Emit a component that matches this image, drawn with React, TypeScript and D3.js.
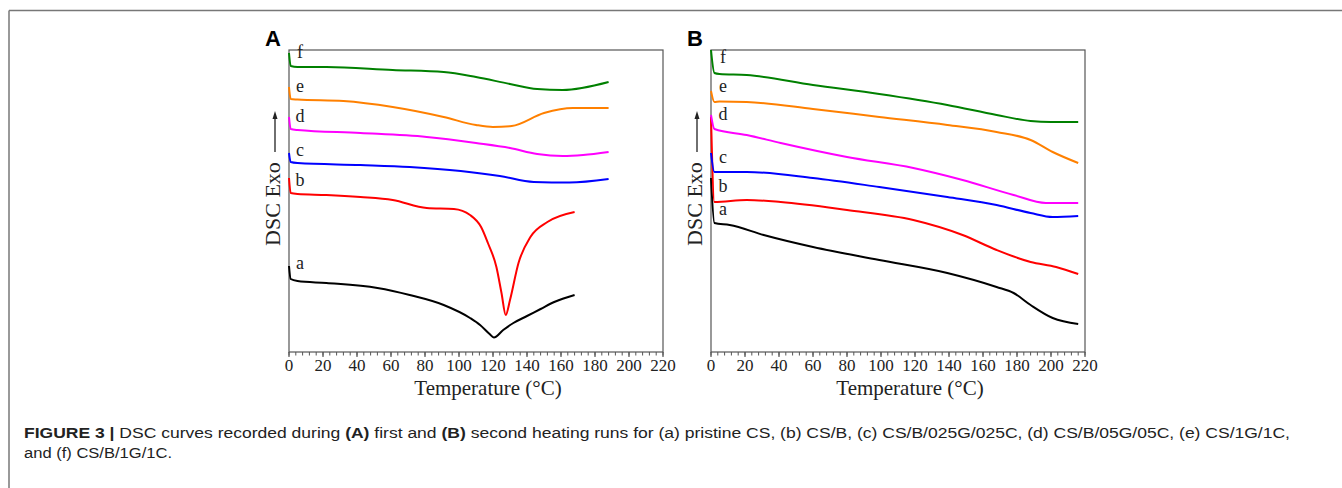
import React from "react";
import * as d3 from "d3";

type P = [number, number];

// Panel A: first heating (temperature °C, heat flow a.u.)
const aA: P[] = [[0, 8.6], [1, 7.3], [5, 7.1], [22, 6.9], [52, 6.4], [71, 5.7], [91, 4.7], [106.5, 3.4], [112.4, 2.7], [118, 1.8], [120.5, 1.45], [126, 2.2], [132, 2.9], [140, 3.6], [148, 4.3], [156, 5.0], [168, 5.7]];
const bA: P[] = [[0, 17.4], [1, 15.9], [5, 15.8], [22, 15.7], [42, 15.5], [61, 15.2], [81, 14.4], [97, 14.3], [106.5, 13.7], [113, 12.5], [117, 10.9], [122, 8.5], [125, 5.9], [127.5, 3.7], [130, 5.2], [135, 8.9], [142, 11.5], [152, 13.0], [168, 14.0]];
const cA: P[] = [[0, 19.9], [1, 19.0], [5, 18.9], [42, 18.7], [71, 18.5], [101, 18.1], [124, 17.6], [144, 17.0], [165, 16.95], [188, 17.3]];
const dA: P[] = [[0, 23.5], [1, 22.3], [5, 22.2], [42, 21.9], [81, 21.5], [110, 20.9], [130, 20.4], [146, 19.8], [161, 19.6], [173, 19.7], [188, 20.0]];
const eA: P[] = [[0, 26.5], [1, 25.3], [5, 25.25], [32, 25.1], [61, 24.5], [91, 23.5], [110, 22.7], [120, 22.5], [131, 22.6], [150, 23.9], [167, 24.4], [188, 24.4]];
const fA: P[] = [[0, 29.9], [1, 28.6], [5, 28.5], [22, 28.5], [61, 28.2], [91, 28.0], [110, 27.5], [130, 26.8], [146, 26.3], [161, 26.2], [188, 27.0]];

// Panel B: second heating
const aB: P[] = [[0, 17.4], [2, 12.9], [11, 12.7], [31, 11.7], [60, 10.5], [99, 9.2], [139, 7.9], [168, 6.5], [178, 5.9], [188, 4.7], [201, 3.4], [216, 2.8]];
const bB: P[] = [[0, 23.5], [2, 15.0], [21, 15.2], [41, 15.0], [80, 14.2], [119, 13.2], [148, 11.7], [168, 10.2], [188, 9.0], [203, 8.5], [216, 7.8]];
const cB: P[] = [[0, 19.9], [2, 18.0], [21, 18.0], [60, 17.4], [99, 16.5], [139, 15.5], [168, 14.7], [188, 13.9], [201, 13.5], [216, 13.6]];
const dB: P[] = [[0, 23.7], [2, 22.3], [21, 21.7], [41, 20.9], [80, 19.5], [119, 18.4], [148, 17.2], [178, 15.7], [197, 14.9], [216, 14.9]];
const eB: P[] = [[0, 26.1], [2, 25.0], [5, 25.05], [21, 25.0], [60, 24.3], [99, 23.5], [139, 22.7], [168, 22.0], [188, 21.2], [201, 20.0], [216, 18.9]];
const fB: P[] = [[0, 30.2], [2, 27.9], [5, 27.8], [21, 27.7], [60, 26.7], [99, 25.8], [139, 24.7], [168, 23.7], [188, 23.1], [200, 23.0], [216, 23.0]];

const seriesNames = ["a", "b", "c", "d", "e", "f"];
const seriesColors = ["#000000", "#ff0000", "#0000ff", "#ff00ff", "#ff8000", "#008000"];
const panelAData = [aA, bA, cA, dA, eA, fA];
const panelBData = [aB, bB, cB, dB, eB, fB];
// label anchor values (a.u.) for series letters
const labelA = [8.3, 16.6, 19.6, 23.0, 26.0, 29.4];
const labelB = [13.7, 16.0, 18.9, 23.2, 26.0, 28.9];

const xTicks = [0, 20, 40, 60, 80, 100, 120, 140, 160, 180, 200, 220];
const minorStep = 4;

const SERIF = "'Liberation Serif', 'Times New Roman', serif";
const SANS = "'Liberation Sans', Arial, sans-serif";

function Panel({ left, right, top, bottom, data, labels, letter }: any) {
  const x = d3.scaleLinear().domain([0, 220]).range([left, right]);
  const y = d3.scaleLinear().domain([0, 30.2]).range([bottom, top]);
  const line = d3.line<P>().x(d => x(d[0])).y(d => y(d[1])).curve(d3.curveMonotoneX);
  const minors = d3.range(0, 220 + 0.001, minorStep);
  const cx = (left + right) / 2;
  return (
    <g>
      <text x={left - 24} y={top - 4} fontFamily={SANS} fontWeight="bold" fontSize={22}>{letter}</text>
      <rect x={left} y={top} width={right - left} height={bottom - top} fill="none" stroke="#555" strokeWidth={1.2} />
      {minors.map((t, i) => (
        <line key={"m" + i} x1={x(t)} x2={x(t)} y1={bottom} y2={bottom + 3.5} stroke="#555" strokeWidth={1} />
      ))}
      {xTicks.map((t, i) => (
        <g key={"t" + i}>
          <line x1={x(t)} x2={x(t)} y1={bottom} y2={bottom + 5} stroke="#555" strokeWidth={1.2} />
          <text x={x(t)} y={bottom + 19} textAnchor="middle" fontFamily={SERIF} fontSize={17} fill="#222">{t}</text>
        </g>
      ))}
      <text x={cx + 12} y={bottom + 43} textAnchor="middle" fontFamily={SERIF} fontSize={21} fill="#222">Temperature (°C)</text>
      <text transform={`translate(${left - 9},${(top + bottom) / 2 + 3}) rotate(-90)`} textAnchor="middle" fontFamily={SERIF} fontSize={22} fill="#222">DSC Exo</text>
      <line x1={left - 14} x2={left - 14} y1={top + 102} y2={top + 66} stroke="#222" strokeWidth={1.3} />
      <path d={`M${left - 14},${top + 61} l-2.5,8 l5,0 z`} fill="#222" />
      {data.map((s: P[], i: number) => (
        <path key={"s" + i} d={line(s) || ""} fill="none" stroke={seriesColors[i]} strokeWidth={2} strokeLinejoin="round" />
      ))}
      {labels.map((v: number, i: number) => (
        <text key={"l" + i} x={x(0) + (letter === "A" ? 11 : 12)} y={y(v)} textAnchor="middle" fontFamily={SERIF} fontSize={18} fill="#222">{seriesNames[i]}</text>
      ))}
    </g>
  );
}

export default function App() {
  return (
    <svg width={1342} height={488} style={{ position: "absolute", left: 0, top: 0, background: "#fff" }}>
      <rect x={0} y={0} width={1342} height={488} fill="#fff" />
      <line x1={9} x2={1342} y1={10.5} y2={10.5} stroke="#777" strokeWidth={1.5} />
      <line x1={9} x2={9} y1={10.5} y2={488} stroke="#777" strokeWidth={1.5} />
      <Panel left={289} right={663} top={50} bottom={352} data={panelAData} labels={labelA} letter="A" />
      <Panel left={711} right={1085} top={50} bottom={352} data={panelBData} labels={labelB} letter="B" />
      <text x={24} y={438} fontFamily={SANS} fontSize={14} fill="#222" textLength={1266} lengthAdjust="spacingAndGlyphs">
        <tspan fontWeight="bold">FIGURE 3 | </tspan>
        <tspan>DSC curves recorded during </tspan>
        <tspan fontWeight="bold">(A)</tspan>
        <tspan> first and </tspan>
        <tspan fontWeight="bold">(B)</tspan>
        <tspan> second heating runs for (a) pristine CS, (b) CS/B, (c) CS/B/025G/025C, (d) CS/B/05G/05C, (e) CS/1G/1C,</tspan>
      </text>
      <text x={24} y={458} fontFamily={SANS} fontSize={14} fill="#222" textLength={148} lengthAdjust="spacingAndGlyphs">and (f) CS/B/1G/1C.</text>
    </svg>
  );
}
